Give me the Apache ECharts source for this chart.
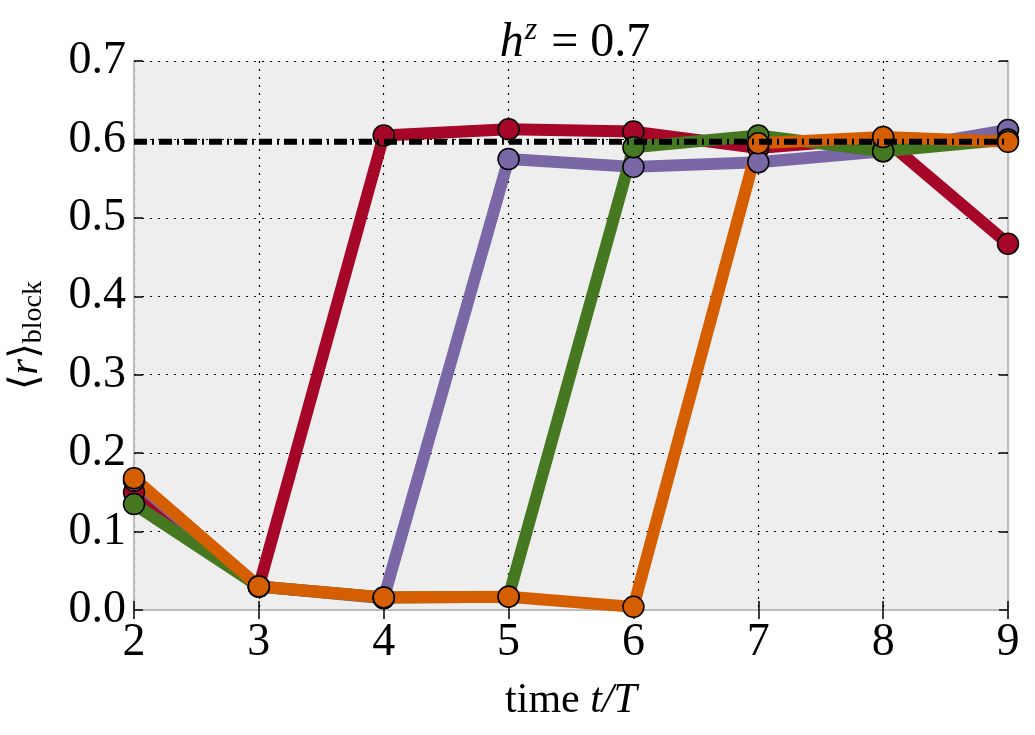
<!DOCTYPE html>
<html>
<head>
<meta charset="utf-8">
<script src="https://cdn.jsdelivr.net/npm/echarts@6/dist/echarts.min.js"></script>
<style>
  html, body { margin: 0; padding: 0; background: #fff; }
  #chart { width: 1035px; height: 735px; }
</style>
</head>
<body>
<div id="chart"></div>
<script>
// time steps t/T
const times = [2, 3, 4, 5, 6, 7, 8, 9]
const redVals = [0.150, 0.030, 0.605, 0.613, 0.610, 0.589, 0.602, 0.467]
const purpleVals = [0.165, 0.030, 0.015, 0.575, 0.565, 0.571, 0.585, 0.612]
const greenVals = [0.135, 0.030, 0.016, 0.017, 0.590, 0.605, 0.585, 0.600]
const orangeVals = [0.168, 0.030, 0.016, 0.017, 0.004, 0.595, 0.603, 0.597]
const refLevel = 0.597
const yTicks = [0, 0.1, 0.2, 0.3, 0.4, 0.5, 0.6, 0.7]

const font = '"Liberation Serif", "DejaVu Serif", serif'
const chart = echarts.init(document.getElementById('chart'))

function pairs(vals) {
  return times.map((t, i) => [t, vals[i]])
}

function curve(name, vals, color) {
  return {
    name,
    type: 'line',
    data: pairs(vals),
    symbol: 'circle',
    symbolSize: 21,
    lineStyle: { width: 12, color },
    itemStyle: { color, borderColor: '#000', borderWidth: 1.5 },
    emphasis: { disabled: true },
    animation: false
  }
}

const tickStyle = { show: true, inside: true, length: 9, lineStyle: { color: '#000', width: 1.5 } }

chart.setOption({
  animation: false,
  title: {
    text: '{i|h}{sup|z}{n| = 0.7}',
    left: 570,
    textAlign: 'center',
    top: 10,
    textStyle: {
      fontWeight: 'normal',
      rich: {
        i: { fontFamily: font, fontStyle: 'italic', fontWeight: 'normal', fontSize: 48, color: '#000' },
        sup: { fontFamily: font, fontStyle: 'italic', fontWeight: 'normal', fontSize: 32, color: '#000', verticalAlign: 'top', padding: [0, 2, 24, 1] },
        n: { fontFamily: font, fontWeight: 'normal', fontSize: 48, color: '#000' }
      }
    }
  },
  grid: {
    left: 134, top: 61, right: 27, bottom: 125,
    outerBoundsMode: 'none', containLabel: false,
    backgroundColor: '#eeeeee', show: true, borderWidth: 0
  },
  xAxis: [{
    type: 'value',
    min: 2, max: 9, interval: 1,
    name: '{n|time }{i|t/T}',
    nameLocation: 'middle',
    nameGap: 70,
    nameTextStyle: {
      rich: {
        n: { fontFamily: font, fontSize: 42, color: '#000' },
        i: { fontFamily: font, fontStyle: 'italic', fontSize: 42, color: '#000' }
      }
    },
    axisLine: { show: true, lineStyle: { color: '#bcbcbc', width: 2 } },
    axisTick: tickStyle,
    axisLabel: { fontFamily: font, fontSize: 46, color: '#000', margin: 10 },
    splitLine: { show: true, lineStyle: { color: '#000', type: [2, 6], width: 1.2 } }
  }, {
    type: 'value', position: 'top',
    min: 2, max: 9, interval: 1,
    axisLine: { show: true, lineStyle: { color: '#bcbcbc', width: 2 } },
    axisTick: tickStyle,
    axisLabel: { show: false },
    splitLine: { show: false }
  }],
  yAxis: [{
    type: 'value',
    min: yTicks[0], max: yTicks[yTicks.length - 1], interval: 0.1,
    name: '{b|⟨}{i|r}{b|⟩}{s|block}',
    nameLocation: 'middle',
    nameGap: 86,
    nameRotate: 90,
    nameTextStyle: {
      rich: {
        b: { fontFamily: font, fontSize: 40, color: '#000' },
        i: { fontFamily: font, fontStyle: 'italic', fontSize: 40, color: '#000' },
        s: { fontFamily: font, fontSize: 28, color: '#000', verticalAlign: 'bottom', padding: [16, 0, 0, 0] }
      }
    },
    axisLine: { show: true, lineStyle: { color: '#bcbcbc', width: 2 } },
    axisTick: tickStyle,
    axisLabel: { fontFamily: font, fontSize: 46, color: '#000', margin: 8, formatter: v => v.toFixed(1) },
    splitLine: { show: true, lineStyle: { color: '#000', type: [2, 6], width: 1.2 } }
  }, {
    type: 'value', position: 'right',
    min: 0, max: 0.7, interval: 0.1,
    axisLine: { show: true, lineStyle: { color: '#bcbcbc', width: 2 } },
    axisTick: tickStyle,
    axisLabel: { show: false },
    splitLine: { show: false }
  }],
  series: [
    curve('red', redVals, '#A60628'),
    curve('purple', purpleVals, '#7A68A6'),
    curve('green', greenVals, '#467821'),
    curve('orange', orangeVals, '#D55E00'),
    {
      name: 'reference',
      type: 'line',
      data: [[times[0], refLevel], [times[times.length - 1], refLevel]],
      symbol: 'none',
      z: 5,
      lineStyle: { color: '#000', width: 6, type: [13, 5, 2, 5] },
      emphasis: { disabled: true }
    }
  ]
})
</script>
</body>
</html>
